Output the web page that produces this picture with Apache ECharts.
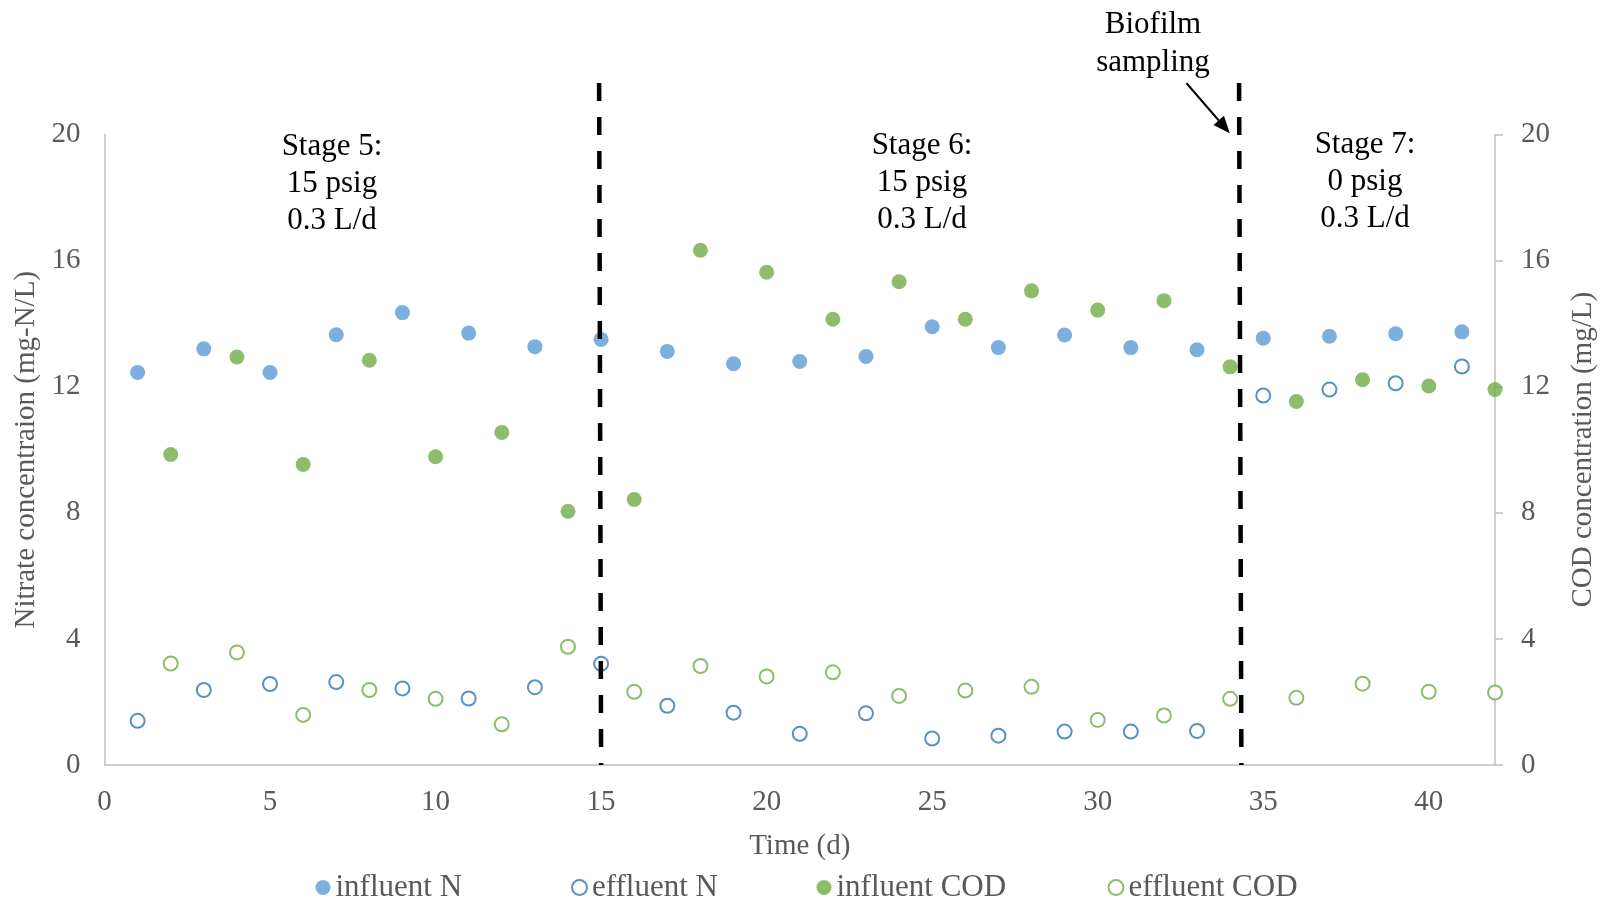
<!DOCTYPE html>
<html>
<head>
<meta charset="utf-8">
<script src="https://cdn.jsdelivr.net/npm/echarts@6/dist/echarts.min.js"></script>
<style>
  html, body { margin: 0; padding: 0; background: #ffffff; }
  #chart { width: 1606px; height: 899px; }
</style>
</head>
<body>
<div id="chart"></div>
<script>
// Sampling days (nitrate measured on odd days, COD on even days)
const nDays = [1, 3, 5, 7, 9, 11, 13, 15, 17, 19, 21, 23, 25, 27, 29, 31, 33, 35, 37, 39, 41];
const codDays = [2, 4, 6, 8, 10, 12, 14, 16, 18, 20, 22, 24, 26, 28, 30, 32, 34, 36, 38, 40, 42];

// Nitrate, mg-N/L
const influentN = [12.45, 13.2, 12.45, 13.65, 14.35, 13.7, 13.27, 13.5, 13.12, 12.73, 12.8,
                   12.96, 13.9, 13.24, 13.64, 13.24, 13.17, 13.54, 13.6, 13.68, 13.74];
const effluentN = [1.40, 2.38, 2.57, 2.63, 2.43, 2.11, 2.47, 3.21, 1.88, 1.66, 0.99,
                   1.64, 0.84, 0.93, 1.06, 1.06, 1.08, 11.72, 11.91, 12.11, 12.64];

// COD, mg/L
const influentCOD = [9.85, 12.94, 9.53, 12.84, 9.78, 10.55, 8.05, 8.42, 16.33, 15.63, 14.14,
                     15.33, 14.14, 15.04, 14.43, 14.73, 12.63, 11.53, 12.22, 12.02, 11.91];
const effluentCOD = [3.22, 3.57, 1.59, 2.38, 2.10, 1.29, 3.75, 2.32, 3.14, 2.81, 2.94,
                     2.19, 2.36, 2.48, 1.43, 1.57, 2.10, 2.13, 2.58, 2.32, 2.30];

// Stage boundaries: [day at axis, 0, day at top, top value]
const stageBoundaries = [[15.0, 0, 14.94, 21.63], [34.34, 0, 34.27, 21.63]];
// Arrow pointing at the biofilm sampling boundary: [x0, y0, x1, y1]
const samplingArrow = [[32.68, 21.63, 33.99, 20.04]];

const seriesNames = ['influent N', 'effluent N', 'influent COD', 'effluent COD'];

const FONT = '"Liberation Serif", "Times New Roman", serif';
const GREY = '#595959';
const AXIS_GREY = '#BFBFBF';

const zip = (xs, ys) => xs.map((x, i) => [x, ys[i]]);

const chart = echarts.init(document.getElementById('chart'));

function yAxisCfg(name, pos, ticks, gap) {
  return {
    type: 'value', position: pos, min: 0, max: 20, interval: 4,
    name: name, nameLocation: 'middle', nameGap: gap,
    nameTextStyle: { fontFamily: FONT, fontSize: 29, color: GREY },
    axisLine: { show: true, lineStyle: { color: AXIS_GREY, width: 1.5 } },
    axisTick: { show: ticks, inside: false, length: 8, lineStyle: { color: AXIS_GREY, width: 1.5 } },
    splitLine: { show: false },
    axisLabel: { fontFamily: FONT, fontSize: 29, color: GREY, margin: pos === 'left' ? 24 : 26 }
  };
}

function legendCfg(name, left) {
  return {
    data: [name], left: left, top: 867,
    itemWidth: 15, itemHeight: 15, itemGap: 0,
    selectedMode: false,
    textStyle: { fontFamily: FONT, fontSize: 31, color: GREY }
  };
}

const option = {
  backgroundColor: '#ffffff',
  animation: false,
  grid: { left: 104.5, right: 108.6, top: 134.5, bottom: 134, containLabel: false },
  xAxis: {
    type: 'value', min: 0, max: 42, interval: 5,
    name: 'Time (d)', nameLocation: 'middle', nameGap: 67,
    nameTextStyle: { fontFamily: FONT, fontSize: 29, color: GREY },
    axisLine: { show: true, lineStyle: { color: AXIS_GREY, width: 1.5 } },
    axisTick: { show: false },
    splitLine: { show: false },
    axisLabel: { fontFamily: FONT, fontSize: 29, color: GREY, margin: 23, showMaxLabel: false }
  },
  yAxis: [
    yAxisCfg('Nitrate concentraion (mg-N/L)', 'left', false, 62),
    yAxisCfg('COD concentration (mg/L)', 'right', true, 74)
  ],
  legend: [
    legendCfg(seriesNames[0], 310.5),
    legendCfg(seriesNames[1], 566),
    legendCfg(seriesNames[2], 811.5),
    legendCfg(seriesNames[3], 1102.5)
  ],
  series: [
    {
      name: seriesNames[0], type: 'scatter', yAxisIndex: 0, clip: false,
      symbol: 'circle', symbolSize: 15,
      itemStyle: { color: '#5B9BD5' },
      data: zip(nDays, influentN)
    },
    {
      name: seriesNames[1], type: 'scatter', yAxisIndex: 0, clip: false,
      symbol: 'emptyCircle', symbolSize: 14,
      itemStyle: { color: '#2E75B6', borderColor: '#2E75B6', borderWidth: 1.8 },
      data: zip(nDays, effluentN)
    },
    {
      name: seriesNames[2], type: 'scatter', yAxisIndex: 1, clip: false,
      symbol: 'circle', symbolSize: 15,
      itemStyle: { color: '#70AD47' },
      data: zip(codDays, influentCOD)
    },
    {
      name: seriesNames[3], type: 'scatter', yAxisIndex: 1, clip: false,
      symbol: 'emptyCircle', symbolSize: 14,
      itemStyle: { color: '#70AD47', borderColor: '#70AD47', borderWidth: 1.8 },
      data: zip(codDays, effluentCOD)
    },
    {
      // dashed stage boundaries, drawn from the top down
      type: 'custom', coordinateSystem: 'cartesian2d', yAxisIndex: 0, clip: false, z: 10,
      silent: true,
      data: stageBoundaries,
      renderItem: function (params, api) {
        const bottom = api.coord([api.value(0), api.value(1)]);
        const top = api.coord([api.value(2), api.value(3)]);
        return {
          type: 'line',
          shape: { x1: top[0], y1: top[1], x2: bottom[0], y2: bottom[1] },
          style: { stroke: '#000000', lineWidth: 4.5, lineDash: [18, 16], fill: null }
        };
      }
    },
    {
      // arrow toward the sampling boundary
      type: 'custom', coordinateSystem: 'cartesian2d', yAxisIndex: 0, clip: false, z: 10,
      silent: true,
      data: samplingArrow,
      renderItem: function (params, api) {
        const a = api.coord([api.value(0), api.value(1)]);
        const b = api.coord([api.value(2), api.value(3)]);
        const dx = b[0] - a[0], dy = b[1] - a[1];
        const len = Math.sqrt(dx * dx + dy * dy);
        const ux = dx / len, uy = dy / len;
        const head = 17, half = 7;
        const bx = b[0] - ux * head, by = b[1] - uy * head;
        return {
          type: 'group',
          children: [
            {
              type: 'line',
              shape: { x1: a[0], y1: a[1], x2: bx, y2: by },
              style: { stroke: '#000000', lineWidth: 2.2 }
            },
            {
              type: 'polygon',
              shape: { points: [[b[0], b[1]], [bx - uy * half, by + ux * half], [bx + uy * half, by - ux * half]] },
              style: { fill: '#000000' }
            }
          ]
        };
      }
    }
  ]
};

// Stage annotations and the sampling note
const noteStyle = { fontFamily: FONT, fontSize: 31, fill: '#000000', align: 'center', verticalAlign: 'top', lineHeight: 37 };
option.graphic = [
  { type: 'text', x: 332, y: 128.5, style: Object.assign({ text: 'Stage 5:\n15 psig\n0.3 L/d' }, noteStyle) },
  { type: 'text', x: 922, y: 127, style: Object.assign({ text: 'Stage 6:\n15 psig\n0.3 L/d' }, noteStyle) },
  { type: 'text', x: 1365, y: 126, style: Object.assign({ text: 'Stage 7:\n0 psig\n0.3 L/d' }, noteStyle) },
  { type: 'text', x: 1153, y: 5.5, style: Object.assign({ text: 'Biofilm\nsampling' }, noteStyle, { lineHeight: 38 }) }
];

chart.setOption(option);
</script>
</body>
</html>
